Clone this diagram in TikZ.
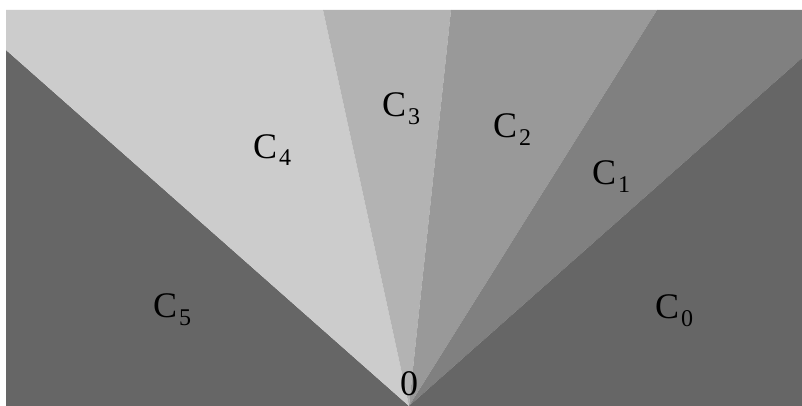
\documentclass[tikz,border=0pt]{standalone}
\usepackage{fontspec}
\setmainfont{Liberation Serif}
\newcommand{\clab}[1]{C\kern2pt\raisebox{-8pt}{\fontsize{24}{24}\selectfont #1}}
\begin{document}
\begin{tikzpicture}[x=1pt,y=-1pt,
  lab/.style={anchor=base west,inner sep=0pt,font=\fontsize{36}{40}\selectfont}]
\useasboundingbox (0,0) rectangle (802,406);
\fill[white] (0,0) rectangle (802,406);
\coordinate (O) at (409,406);
\coordinate (BL) at (6,406);
\coordinate (L) at (6,50);
\coordinate (TL) at (6,10);
\coordinate (T1) at (323,10);
\coordinate (T2) at (451,10);
\coordinate (T3) at (657,10);
\coordinate (TR) at (802,10);
\coordinate (R) at (802,58);
\coordinate (BR) at (802,406);
\fill[fill={rgb,255:red,102;green,102;blue,102}] (O) -- (BL) -- (L) -- cycle;
\fill[fill={rgb,255:red,204;green,204;blue,204}] (O) -- (L) -- (TL) -- (T1) -- cycle;
\fill[fill={rgb,255:red,179;green,179;blue,179}] (O) -- (T1) -- (T2) -- cycle;
\fill[fill={rgb,255:red,153;green,153;blue,153}] (O) -- (T2) -- (T3) -- cycle;
\fill[fill={rgb,255:red,128;green,128;blue,128}] (O) -- (T3) -- (TR) -- (R) -- cycle;
\fill[fill={rgb,255:red,102;green,102;blue,102}] (O) -- (R) -- (BR) -- cycle;
\node[lab] (c5) at (153,317) {\clab{5}};
\node[lab] (c4) at (253,158) {\clab{4}};
\node[lab] (c3) at (382,117) {\clab{3}};
\node[lab] (c2) at (493,138) {\clab{2}};
\node[lab] (c1) at (592,184) {\clab{1}};
\node[lab] (c0) at (655,318) {\clab{0}};
\node[lab] (z) at (400,395) {0};
\end{tikzpicture}
\end{document}
